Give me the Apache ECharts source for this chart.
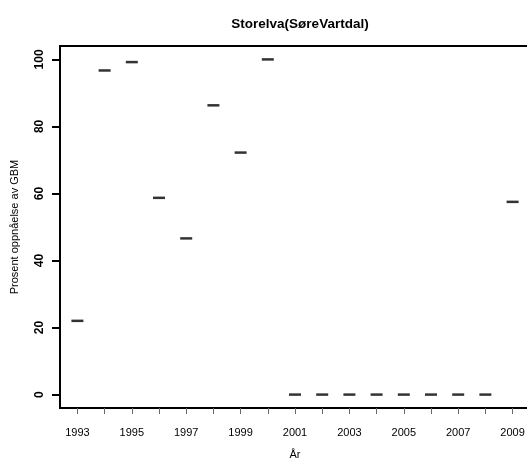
<!DOCTYPE html>
<html>
<head>
<meta charset="utf-8">
<script src="https://cdn.jsdelivr.net/npm/echarts@6/dist/echarts.min.js"></script>
<style>html,body{margin:0;padding:0;background:#fff;}#c{width:527px;height:462px;}</style>
</head>
<body>
<div id="c"></div>
<script>
const years = [1993,1994,1995,1996,1997,1998,1999,2000,2001,2002,2003,2004,2005,2006,2007,2008,2009];
const values = [22.0,96.7,99.2,58.7,46.6,86.3,72.2,100,0,0,0,0,0,0,0,0,57.5];
const xLabelYears = [1993,1995,1997,1999,2001,2003,2005,2007,2009];
const yTicks = [0,20,40,60,80,100];

const chart = echarts.init(document.getElementById('c'), null, {renderer:'canvas'});
const font = 'Liberation Sans, Arial, Helvetica, sans-serif';
chart.setOption({
  animation: false,
  backgroundColor: '#fff',
  title: {
    text: 'Storelva(SøreVartdal)',
    left: 295, top: 12, textAlign: 'center',
    textStyle: {fontFamily: font, fontSize: 13.5, fontWeight: 'bold', color: '#000'}
  },
  grid: {left: 60, top: 46, width: 470, height: 362, outerBoundsMode: 'none', containLabel: false,
         show: true, borderColor: '#000', borderWidth: 2, backgroundColor: 'transparent'},
  xAxis: {
    type: 'value', min: 1992.36, max: 2009.64,
    name: 'År', nameLocation: 'middle', nameGap: 41,
    nameTextStyle: {fontFamily: font, fontSize: 11, color: '#000'},
    axisLine: {show: false, onZero: false},
    splitLine: {show: false},
    axisTick: {show: true, length: 6, customValues: years, lineStyle: {color: '#666', width: 1}},
    axisLabel: {customValues: xLabelYears, margin: 19, fontFamily: font, fontSize: 11, color: '#000', formatter: v => String(v)}
  },
  yAxis: {
    type: 'value', min: -4, max: 104,
    name: 'Prosent oppnåelse av GBM', nameLocation: 'middle', nameGap: 40,
    nameTextStyle: {fontFamily: font, fontSize: 11, color: '#000'},
    axisLine: {show: false, onZero: false},
    splitLine: {show: false},
    axisTick: {show: true, length: 8, customValues: yTicks, lineStyle: {color: '#000', width: 2}},
    axisLabel: {customValues: yTicks, rotate: 90, margin: 14, fontFamily: font, fontSize: 12, fontWeight: 'bold', color: '#000'}
  },
  series: [{
    type: 'scatter',
    data: years.map((y, i) => [y, values[i]]),
    symbol: 'rect',
    symbolSize: [12, 2.5],
    itemStyle: {color: '#000'}
  }]
});
</script>
</body>
</html>
